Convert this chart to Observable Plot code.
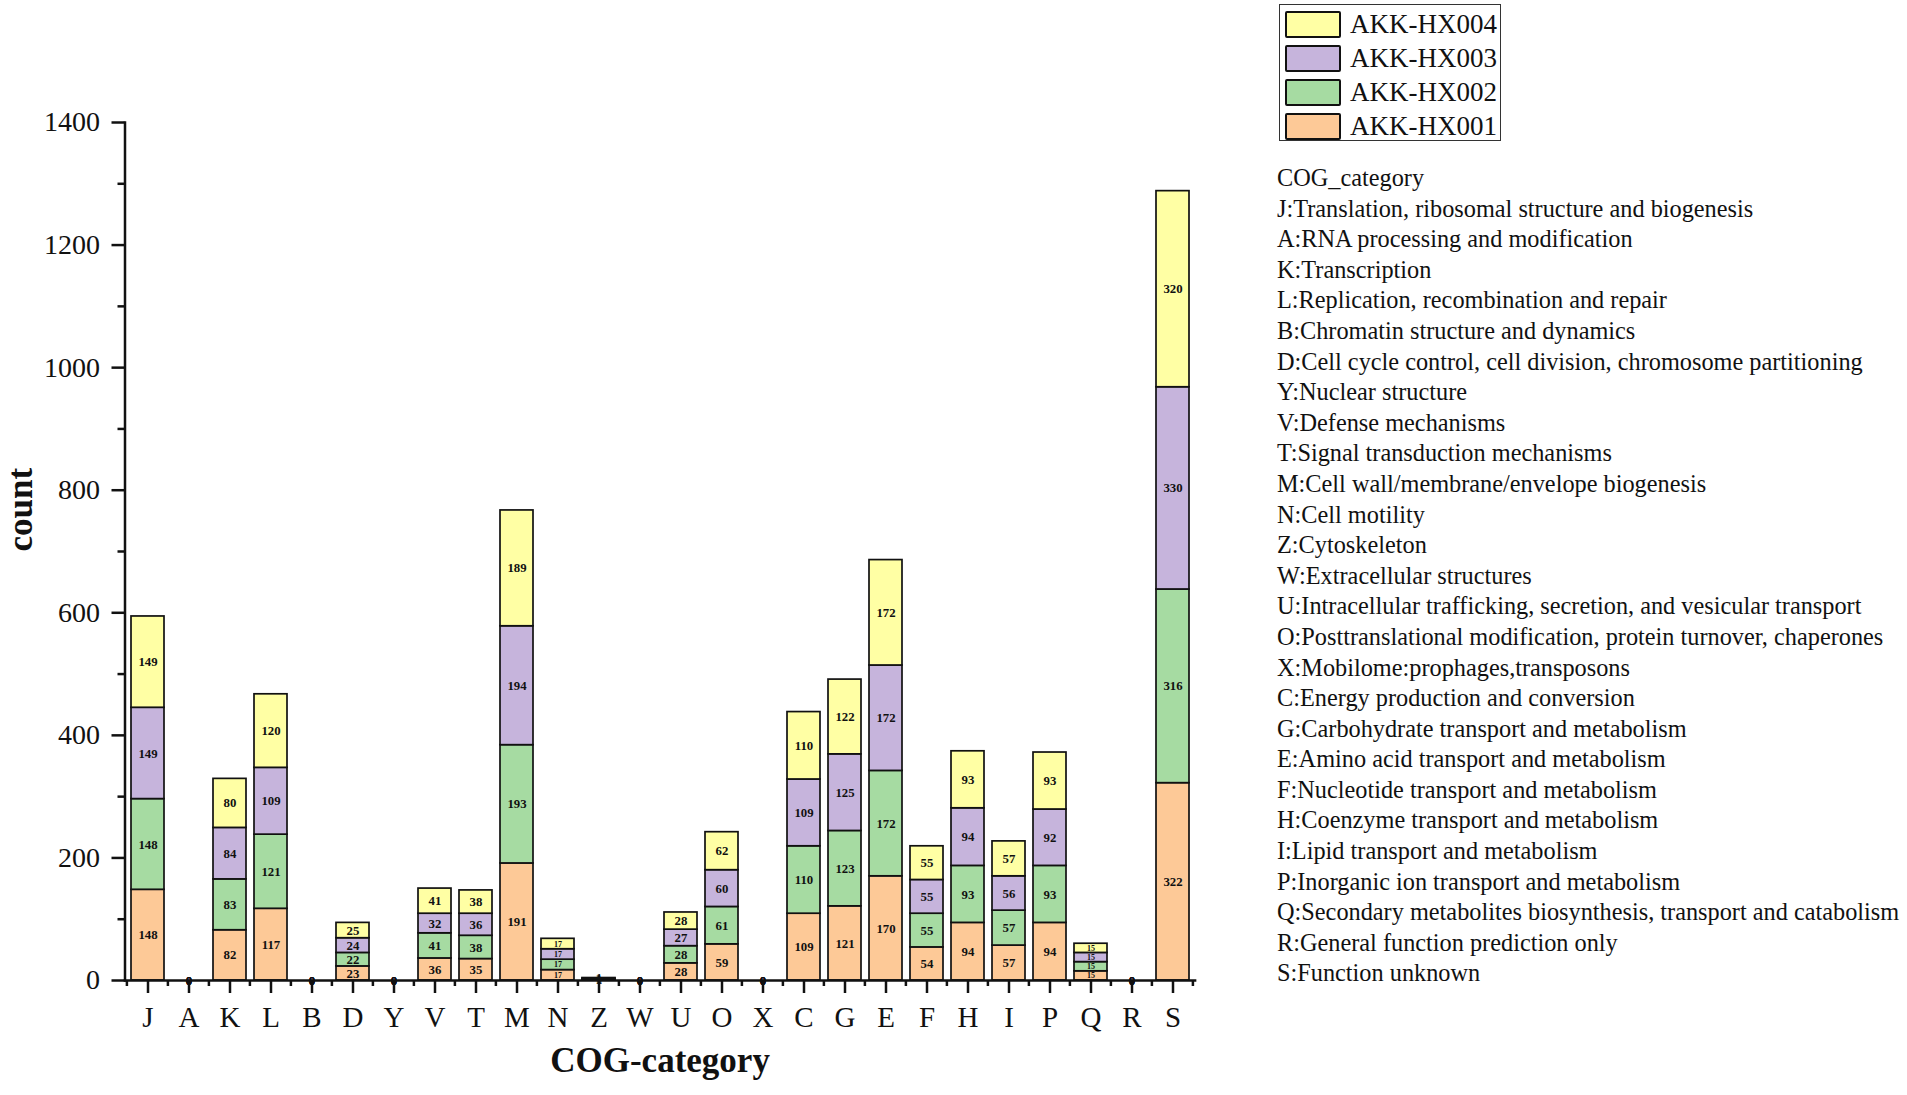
<!DOCTYPE html>
<html>
<head>
<meta charset="utf-8">
<script src="https://cdn.jsdelivr.net/npm/d3@7"></script>
<script src="https://cdn.jsdelivr.net/npm/@observablehq/plot@0.6"></script>
<style>
  html, body { margin: 0; padding: 0; background: #fff; }
  #wrap { position: relative; width: 1907px; height: 1095px; font-family: "Liberation Serif", "Times New Roman", serif; color: #111; }
  #chart { position: absolute; left: 0; top: 0; }
  #legend { position: absolute; left: 1279px; top: 4px; width: 222px; height: 137px; border: 1.5px solid #333; box-sizing: border-box; }
  .lrow { position: absolute; left: 5px; height: 29px; display: flex; align-items: center; }
  .sw { width: 56px; height: 27px; border: 2px solid #111; border-radius: 2px; box-sizing: border-box; margin-right: 9px; }
  .lt { font-size: 27px; line-height: 29px; white-space: nowrap; }
  #cog { position: absolute; left: 1277px; top: 163px; font-size: 24.3px; line-height: 30.6px; white-space: nowrap; }
</style>
</head>
<body>
<div id="wrap">
  <div id="chart"></div>
  <div id="legend"></div>
  <div id="cog"></div>
</div>
<script>
const categories = ["J","A","K","L","B","D","Y","V","T","M","N","Z","W","U","O","X","C","G","E","F","H","I","P","Q","R","S"];
const seriesNames = ["AKK-HX001","AKK-HX002","AKK-HX003","AKK-HX004"];
const seriesColors = ["#FDC997","#A6DBA2","#C6B4DC","#FFFFA4"];
const hx001 = [148,0,82,117,0,23,0,36,35,191,17,1,0,28,59,0,109,121,170,54,94,57,94,15,0,322];
const hx002 = [148,0,83,121,0,22,0,41,38,193,17,1,0,28,61,0,110,123,172,55,93,57,93,15,0,316];
const hx003 = [149,0,84,109,0,24,0,32,36,194,17,1,0,27,60,0,109,125,172,55,94,56,92,15,0,330];
const hx004 = [149,0,80,120,0,25,0,41,38,189,17,1,0,28,62,0,110,122,172,55,93,57,93,15,0,320];
const yTicks = [0,200,400,600,800,1000,1200,1400];
const yMinorTicks = [100,300,500,700,900,1100,1300];
const cogDescriptions = [
  "COG_category",
  "J:Translation, ribosomal structure and biogenesis",
  "A:RNA processing and modification",
  "K:Transcription",
  "L:Replication, recombination and repair",
  "B:Chromatin structure and dynamics",
  "D:Cell cycle control, cell division, chromosome partitioning",
  "Y:Nuclear structure",
  "V:Defense mechanisms",
  "T:Signal transduction mechanisms",
  "M:Cell wall/membrane/envelope biogenesis",
  "N:Cell motility",
  "Z:Cytoskeleton",
  "W:Extracellular structures",
  "U:Intracellular trafficking, secretion, and vesicular transport",
  "O:Posttranslational modification, protein turnover, chaperones",
  "X:Mobilome:prophages,transposons",
  "C:Energy production and conversion",
  "G:Carbohydrate transport and metabolism",
  "E:Amino acid transport and metabolism",
  "F:Nucleotide transport and metabolism",
  "H:Coenzyme transport and metabolism",
  "I:Lipid transport and metabolism",
  "P:Inorganic ion transport and metabolism",
  "Q:Secondary metabolites biosynthesis, transport and catabolism",
  "R:General function prediction only",
  "S:Function unknown"
];

const seriesValues = [hx001, hx002, hx003, hx004];
const data = [];
seriesNames.forEach((s, si) => {
  categories.forEach((c, ci) => data.push({cat: c, series: s, value: seriesValues[si][ci]}));
});
const bigData = data.filter(d => d.value >= 20 || d.value <= 1);
const smallData = data.filter(d => d.value > 1 && d.value < 20);

const font = "'Liberation Serif', 'Times New Roman', serif";

const minorXTicks = (index, scales, values, dims) => {
  const x = scales.x;
  const st = x(categories[1]) - x(categories[0]);
  const y0 = dims.height - dims.marginBottom;
  const g = d3.create("svg:g");
  const edges = categories.map(c => x(c) - 0.1 * st);
  edges.push(x(categories[categories.length - 1]) + 0.9 * st);
  g.selectAll("line").data(edges).join("line")
    .attr("x1", d => d).attr("x2", d => d)
    .attr("y1", y0).attr("y2", y0 + 6)
    .attr("stroke", "#111").attr("stroke-width", 2.5);
  return g.node();
};

const stackOpts = {x: "cat", y: "value", z: "series", text: d => String(d.value), fontWeight: "bold", fill: "#111", fontFamily: font};

const chart = Plot.plot({
  width: 1907,
  height: 1095,
  marginLeft: 124.5,
  marginRight: 712.4,
  marginTop: 122,
  marginBottom: 115,
  style: {fontFamily: font, fontSize: "28px", color: "#111", background: "transparent"},
  x: {domain: categories, paddingInner: 0.2, paddingOuter: 0.1, axis: null},
  y: {domain: [0, 1400], axis: null},
  color: {domain: seriesNames, range: seriesColors},
  marks: [
    Plot.barY(data, {x: "cat", y: "value", fill: "series", stroke: "#111", strokeWidth: 1.7}),
    Plot.text(data, Plot.stackY({...stackOpts, fontSize: 12.8,
      text: d => (d.value >= 20 || d.value <= 1) ? String(d.value) : ""})),
    Plot.text(data, Plot.stackY({...stackOpts, fontSize: 8,
      text: d => (d.value > 1 && d.value < 20) ? String(d.value) : ""})),
    Plot.axisY({ticks: yTicks, tickSize: 13, tickPadding: 12, tickFormat: d => String(d), fontSize: 28, strokeWidth: 2.5, label: null}),
    Plot.axisY({ticks: yMinorTicks, tickSize: 7, tickFormat: () => "", strokeWidth: 2.5, label: null}),
    Plot.axisX({tickSize: 13, tickPadding: 13, fontSize: 29, strokeWidth: 2.5, label: null}),
    minorXTicks,
    Plot.frame({anchor: "left", stroke: "#111", strokeWidth: 2.5}),
    Plot.frame({anchor: "bottom", stroke: "#111", strokeWidth: 2.5}),
    Plot.text(["COG-category"], {frameAnchor: "bottom", text: d => d, dy: 91, fontSize: 35, fontWeight: "bold", fontFamily: font, fill: "#111"}),
    Plot.text(["count"], {frameAnchor: "left", text: d => d, dx: -104, rotate: -90, fontSize: 35, fontWeight: "bold", fontFamily: font, fill: "#111"})
  ]
});
document.getElementById("chart").appendChild(chart);

// Legend (top row = last series)
const legend = document.getElementById("legend");
const rowTops = [5, 39, 73, 107];
[...seriesNames].reverse().forEach((s, i) => {
  const color = seriesColors[seriesNames.indexOf(s)];
  const row = document.createElement("div");
  row.className = "lrow";
  row.style.top = rowTops[i] + "px";
  row.innerHTML = `<div class="sw" style="background:${color}"></div><div class="lt">${s}</div>`;
  legend.appendChild(row);
});

const cog = document.getElementById("cog");
cogDescriptions.forEach(t => {
  const d = document.createElement("div");
  d.textContent = t;
  cog.appendChild(d);
});
</script>
</body>
</html>
